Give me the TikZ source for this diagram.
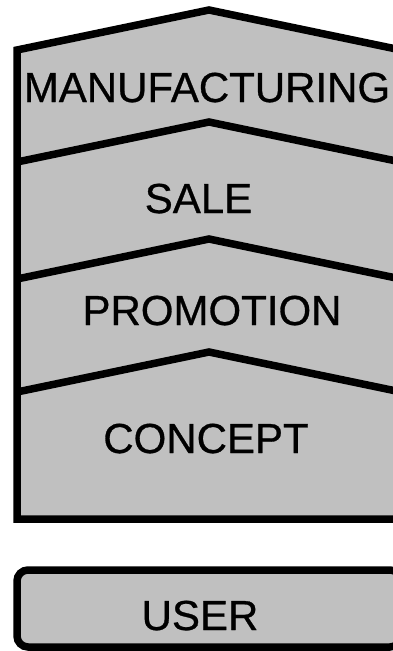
\documentclass[tikz,border=0pt]{standalone}
\usepackage{fontspec}
\setmainfont{Liberation Sans}
\newfontfamily\labelfont{Liberation Sans}[FakeBold=0.7]
\definecolor{stagegray}{RGB}{192,192,192}
\begin{document}
\begin{tikzpicture}[x=1pt,y=-1pt,
  stageshape/.style={draw=black,fill=stagegray,line width=7.5pt,line join=miter,miter limit=10},
  divider/.style={draw=black,line width=7.5pt,line join=miter,miter limit=10},
  userbox/.style={draw=black,fill=stagegray,line width=7.5pt,rounded corners=11pt},
  stagelabel/.style={font=\labelfont\fontsize{42}{50}\selectfont,anchor=base,inner sep=0pt}]
\useasboundingbox (0,0) rectangle (393,651);
\clip (0,0) rectangle (393,651);
% outer stack
\draw[stageshape] (17,519) -- (17,50) -- (209,10) -- (401,50) -- (401,519) -- cycle;
% dividers
\coordinate (d1l) at (17,162); \coordinate (d1a) at (209,122); \coordinate (d1r) at (401,162);
\coordinate (d2l) at (17,279); \coordinate (d2a) at (209,239); \coordinate (d2r) at (401,279);
\coordinate (d3l) at (17,392); \coordinate (d3a) at (209,352); \coordinate (d3r) at (401,392);
\draw[divider] (d1l) -- (d1a) -- (d1r);
\draw[divider] (d2l) -- (d2a) -- (d2r);
\draw[divider] (d3l) -- (d3a) -- (d3r);
% user box
\draw[userbox] (17,570) rectangle (401,647);
% labels
\node[stagelabel] (manufacturing) at (207,102) {MANUFACTURING};
\node[stagelabel] (sale) at (198.5,213) {SALE};
\node[stagelabel] (promotion) at (212,325) {PROMOTION};
\node[stagelabel] (concept) at (206,453) {CONCEPT};
\node[stagelabel] (user) at (200,630) {USER};
\end{tikzpicture}
\end{document}
